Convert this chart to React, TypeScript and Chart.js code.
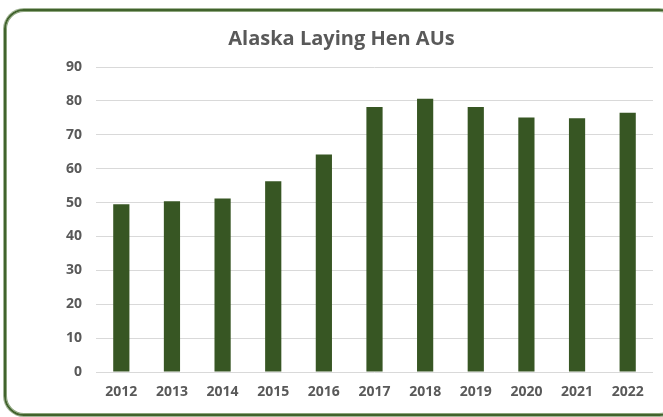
import React, { useEffect, useRef } from "react";
import { Chart, registerables } from "chart.js";

Chart.register(...registerables);

const years = ["2012", "2013", "2014", "2015", "2016", "2017", "2018", "2019", "2020", "2021", "2022"];
const henAUs = [49.5, 50.4, 51.2, 56.3, 64.2, 78.2, 80.6, 78.2, 75.1, 74.9, 76.5];
const yTicks = [0, 10, 20, 30, 40, 50, 60, 70, 80, 90];
const titleText = "Alaska Laying Hen AUs";

const FONT = "'Open Sans', 'Liberation Sans', sans-serif";

export default function App() {
  const ref = useRef<HTMLCanvasElement | null>(null);

  useEffect(() => {
    if (!ref.current) return;
    const chart = new Chart(ref.current, {
      type: "bar",
      data: {
        labels: years,
        datasets: [
          {
            data: henAUs,
            backgroundColor: "#375623",
            borderWidth: 0,
            categoryPercentage: 1,
            barPercentage: 0.32,
          },
        ],
      },
      options: {
        animation: false,
        responsive: false,
        maintainAspectRatio: false,
        layout: { padding: { left: 30, right: 10, top: 0, bottom: 16 } },
        plugins: {
          legend: { display: false },
          tooltip: { enabled: false },
          title: {
            display: true,
            text: titleText,
            color: "#595959",
            font: { family: FONT, size: 20, weight: "bold" },
            padding: { top: 27, bottom: 16 },
          },
        },
        scales: {
          x: {
            grid: { display: false, drawTicks: false },
            border: { display: false },
            afterFit: (scale: any) => {
              scale.height = 29;
            },
            ticks: {
              color: "#595959",
              font: { family: FONT, size: 14, weight: "bold" },
              padding: 12,
              maxRotation: 0,
            },
          },
          y: {
            min: 0,
            max: 90,
            afterFit: (scale: any) => {
              scale.width = 66;
            },
            afterBuildTicks: (scale: any) => {
              scale.ticks = yTicks.map((v) => ({ value: v }));
            },
            grid: { color: "#d9d9d9", lineWidth: 1, drawTicks: false },
            border: { display: false },
            ticks: {
              color: "#595959",
              font: { family: FONT, size: 14, weight: "bold" },
              padding: 14,
            },
          },
        },
      },
    });
    return () => chart.destroy();
  }, []);

  return (
    <div
      style={{
        position: "fixed",
        left: 0,
        top: 0,
        width: 663,
        height: 417,
        overflow: "hidden",
        background: "#ffffff",
      }}
    >
      <canvas
        ref={ref}
        width={663}
        height={417}
        style={{ position: "absolute", left: 0, top: 0, width: 663, height: 417 }}
      />
      <div
        style={{
          position: "absolute",
          left: 4,
          top: 9,
          width: 675,
          height: 407,
          boxSizing: "border-box",
          border: "2px solid #41632c",
          borderRadius: 20,
          boxShadow: "0 0 0 1px #a2b596, inset 0 0 0 1px #8ca57c",
          pointerEvents: "none",
        }}
      />
    </div>
  );
}
